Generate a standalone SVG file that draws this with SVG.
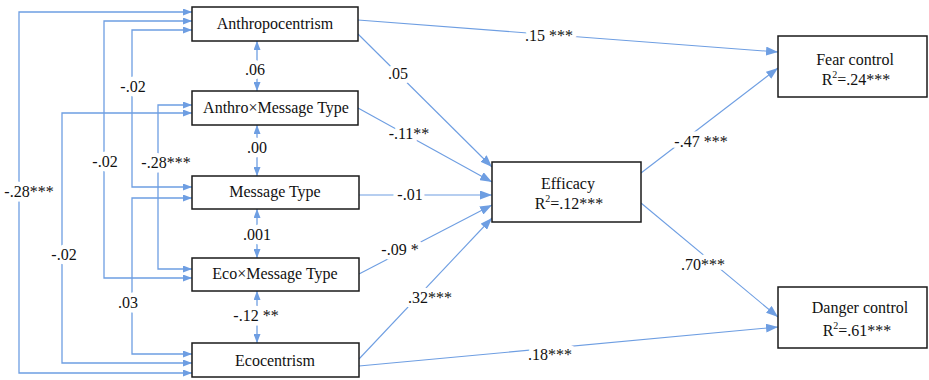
<svg xmlns="http://www.w3.org/2000/svg" width="929" height="380" viewBox="0 0 929 380">
  <style>
    .box { fill: #fff; stroke: #1a1a1a; stroke-width: 1.5; }
    .name { font-family: 'Liberation Serif', serif; font-size: 16px; fill: #111; text-anchor: middle; }
    .cov { fill: none; stroke: #6e9ee2; stroke-width: 1.3; marker-start: url(#hs); marker-end: url(#hs); }
    .path { fill: none; stroke: #6e9ee2; stroke-width: 1.1; marker-end: url(#hl); }
    .lbl { font-family: 'Liberation Serif', serif; font-size: 16px; fill: #111; text-anchor: middle;
           stroke: #fff; stroke-width: 9; stroke-linejoin: round; paint-order: stroke; }
    .sup { font-size: 10px; }
  </style>
  <defs>
    <marker id="hs" viewBox="0 0 9 7" refX="9" refY="3.5" markerWidth="9" markerHeight="7" orient="auto-start-reverse" markerUnits="userSpaceOnUse">
      <path d="M0,0 L9,3.5 L0,7 z" fill="#6e9ee2"/>
    </marker>
    <marker id="hl" viewBox="0 0 12 9" refX="12" refY="4.5" markerWidth="12" markerHeight="9" orient="auto" markerUnits="userSpaceOnUse">
      <path d="M0,0 L12,4.5 L0,9 z" fill="#6e9ee2"/>
    </marker>
  </defs>

  <!-- connectors -->
  <g id="connectors">
    <!-- covariances between exogenous variables -->
    <path class="cov" d="M192,12 H19 V373 H192"/>
    <path class="cov" d="M192,21 H104 V278 H192"/>
    <path class="cov" d="M192,30 H132 V187 H192"/>
    <path class="cov" d="M192,113 H62 V363 H192"/>
    <path class="cov" d="M192,105 H158 V269 H192"/>
    <path class="cov" d="M192,198 H132 V354 H192"/>
    <path class="cov" d="M257,41 V91"/>
    <path class="cov" d="M257,125 V176"/>
    <path class="cov" d="M257,209 V258"/>
    <path class="cov" d="M257,291 V343"/>
    <!-- regression paths -->
    <path class="path" d="M358,20 L778,52"/>
    <path class="path" d="M358,34 L492,167"/>
    <path class="path" d="M358,108 L492,182"/>
    <path class="path" d="M359,195 L492,195"/>
    <path class="path" d="M359,274 L492,205"/>
    <path class="path" d="M359,359 L492,218"/>
    <path class="path" d="M359,366 L778,327"/>
    <path class="path" d="M641,173 L778,68"/>
    <path class="path" d="M641,203 L778,317"/>

    <!-- coefficient labels -->
    <text class="lbl" x="29" y="197">-.28***</text>
    <text class="lbl" x="105" y="167">-.02</text>
    <text class="lbl" x="133" y="92">-.02</text>
    <text class="lbl" x="64" y="260">-.02</text>
    <text class="lbl" x="166" y="168">-.28***</text>
    <text class="lbl" x="128" y="308">.03</text>
    <text class="lbl" x="255" y="75">.06</text>
    <text class="lbl" x="257" y="153">.00</text>
    <text class="lbl" x="257" y="240">.001</text>
    <text class="lbl" x="256" y="321">-.12 **</text>
    <text class="lbl" x="549" y="41">.15 ***</text>
    <text class="lbl" x="398" y="79">.05</text>
    <text class="lbl" x="409" y="139">-.11**</text>
    <text class="lbl" x="410" y="200">-.01</text>
    <text class="lbl" x="400" y="255">-.09 *</text>
    <text class="lbl" x="430" y="303">.32***</text>
    <text class="lbl" x="550" y="360">.18***</text>
    <text class="lbl" x="701" y="147">-.47 ***</text>
    <text class="lbl" x="703" y="270">.70***</text>
  </g>

  <!-- variables -->
  <g id="anthropocentrism">
    <rect class="box" x="192" y="7" width="166" height="34"/>
    <text class="name" x="275" y="29">Anthropocentrism</text>
  </g>
  <g id="anthro-message-type">
    <rect class="box" x="192" y="91" width="166" height="34"/>
    <text class="name" x="276" y="113">Anthro×Message Type</text>
  </g>
  <g id="message-type">
    <rect class="box" x="192" y="176" width="167" height="33"/>
    <text class="name" x="275" y="197">Message Type</text>
  </g>
  <g id="eco-message-type">
    <rect class="box" x="192" y="258" width="167" height="33"/>
    <text class="name" x="275" y="279">Eco×Message Type</text>
  </g>
  <g id="ecocentrism">
    <rect class="box" x="192" y="343" width="167" height="34"/>
    <text class="name" x="275" y="366">Ecocentrism</text>
  </g>
  <g id="efficacy">
    <rect class="box" x="492" y="162" width="149" height="60"/>
    <text class="name" x="568" y="189">Efficacy</text>
    <text class="name" x="569" y="209">R<tspan class="sup" dy="-7">2</tspan><tspan dy="7">=.12***</tspan></text>
  </g>
  <g id="fear-control">
    <rect class="box" x="778" y="36" width="149" height="61"/>
    <text class="name" x="855" y="65">Fear control</text>
    <text class="name" x="856" y="85">R<tspan class="sup" dy="-7">2</tspan><tspan dy="7">=.24***</tspan></text>
  </g>
  <g id="danger-control">
    <rect class="box" x="778" y="287" width="149" height="61"/>
    <text class="name" x="860" y="313">Danger control</text>
    <text class="name" x="857" y="336">R<tspan class="sup" dy="-7">2</tspan><tspan dy="7">=.61***</tspan></text>
  </g>
</svg>
